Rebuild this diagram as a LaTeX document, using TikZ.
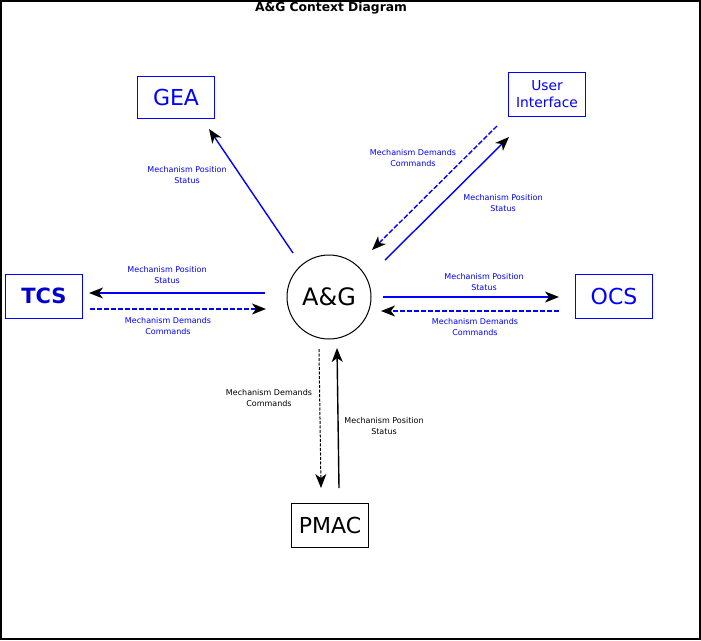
\documentclass[tikz,border=0pt]{standalone}
\usepackage{fontspec}
\setmainfont{DejaVu Sans}
\usetikzlibrary{arrows.meta,positioning}

\begin{document}
\begin{tikzpicture}[x=1pt,y=-1pt,
	sysbox/.style={draw=blue,line width=1pt,text=blue,minimum width=77pt,minimum height=44pt,inner sep=0pt,font=\fontsize{22}{24}\selectfont},
	flow/.style={draw=blue,line width=1.4pt,-{Stealth[color=black,length=14pt,width=11pt,inset=4pt]}},
	demand/.style={flow,dash pattern=on 5pt off 2pt},
	lbl/.style={align=center,text=blue,inner sep=0pt,font=\fontsize{8}{11}\selectfont}]
	\useasboundingbox (0,0) rectangle (701,640);
	\draw[line width=1.5pt] (1,1) rectangle (700,639);
	\node[font=\bfseries\fontsize{12.3}{14}\selectfont] (title) at (331,8) {A\&G Context Diagram};

	% the system and its neighbours
	\node[circle,draw,line width=1pt,minimum size=84pt,inner sep=0pt,font=\fontsize{24}{28}\selectfont] (ag) at (329,297) {A\&G};
	\node[sysbox,minimum height=42pt] (gea) at (176,97) {GEA};
	\node[sysbox,align=center,font=\fontsize{13.8}{17}\selectfont] (ui) at (547,94) {User\\Interface};
	\node[sysbox,text=blue!80!black,font=\bfseries\fontsize{21}{24}\selectfont] (tcs) at (44,296) {TCS};
	\node[sysbox] (ocs) at (614,296) {OCS};
	\node[sysbox,draw=black,text=black] (pmac) at (330,525) {PMAC};

	% connector ends
	\coordinate (gea-a) at (293,253); \coordinate (gea-b) at (209,129);
	\coordinate (ui-a) at (497,126); \coordinate (ui-b) at (372,250);
	\coordinate (ui-c) at (385,260); \coordinate (ui-d) at (509,137);
	\coordinate (tcs-a) at (265,293); \coordinate (tcs-b) at (89,293);
	\coordinate (tcs-c) at (90,309); \coordinate (tcs-d) at (266,309);
	\coordinate (ocs-a) at (383,297); \coordinate (ocs-b) at (559,297);
	\coordinate (ocs-c) at (559,311); \coordinate (ocs-d) at (381,311);
	\coordinate (pmac-a) at (319,349); \coordinate (pmac-b) at (321,488);
	\coordinate (pmac-c) at (339,488); \coordinate (pmac-d) at (337,348);

	\draw[flow] (gea-a) -- (gea-b);
	\draw[demand] (ui-a) -- (ui-b);
	\draw[flow] (ui-c) -- (ui-d);
	\draw[flow] (tcs-a) -- (tcs-b);
	\draw[demand] (tcs-c) -- (tcs-d);
	\draw[flow] (ocs-a) -- (ocs-b);
	\draw[demand] (ocs-c) -- (ocs-d);
	\draw[demand,draw=black,line width=1pt,dash pattern=on 3pt off 1.5pt] (pmac-a) -- (pmac-b);
	\draw[flow,draw=black] (pmac-c) -- (pmac-d);

	% flow labels
	\node[lbl] (gea-pos) at (187,175) {Mechanism Position\\Status};
	\node[lbl] (ui-dem) at (413,158) {Mechanism Demands\\Commands};
	\node[lbl] (ui-pos) at (503,203) {Mechanism Position\\Status};
	\node[lbl] (tcs-pos) at (167,275) {Mechanism Position\\Status};
	\node[lbl] (tcs-dem) at (168,326) {Mechanism Demands\\Commands};
	\node[lbl] (ocs-pos) at (484,282) {Mechanism Position\\Status};
	\node[lbl] (ocs-dem) at (475,327) {Mechanism Demands\\Commands};
	\node[lbl,text=black] (pmac-dem) at (269,398) {Mechanism Demands\\Commands};
	\node[lbl,text=black] (pmac-pos) at (384,426) {Mechanism Position\\Status};
\end{tikzpicture}
\end{document}
